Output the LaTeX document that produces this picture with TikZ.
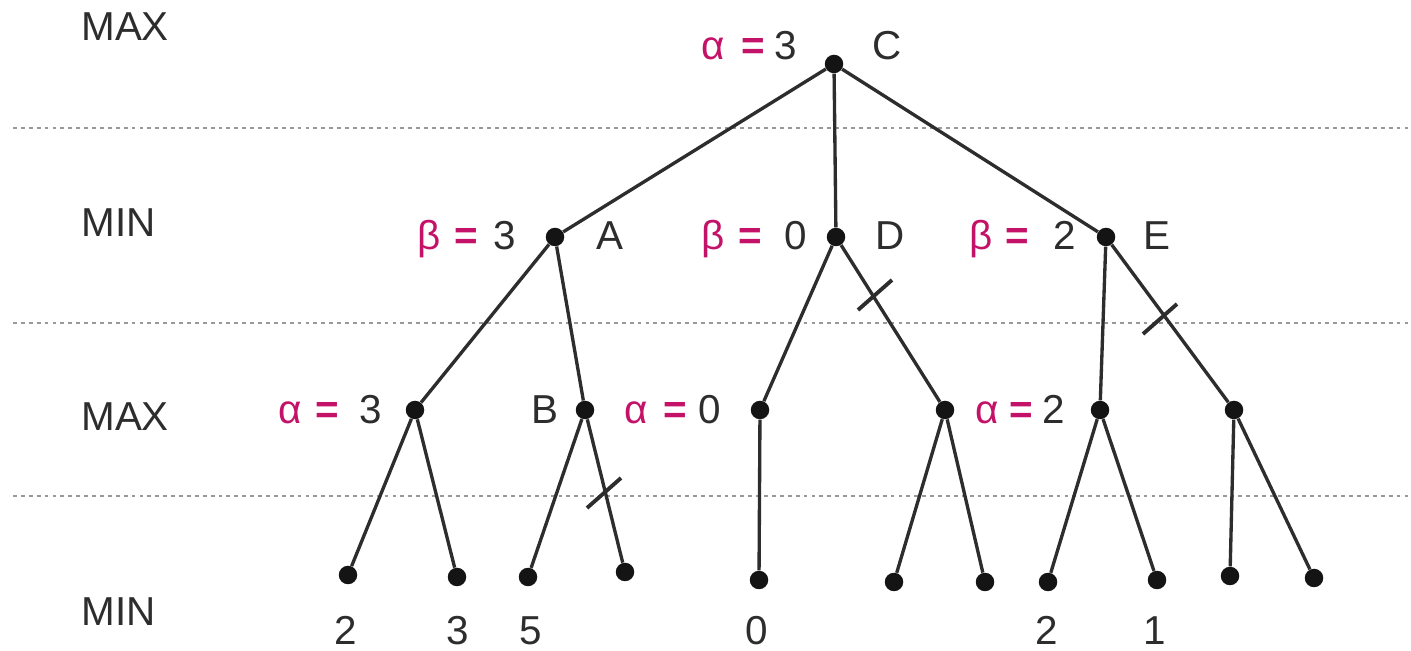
\documentclass[tikz,border=0pt]{standalone}
\usepackage{fontspec}
\setmainfont{Liberation Sans}
\usetikzlibrary{calc}
\definecolor{pk}{RGB}{196,18,104}
\definecolor{tx}{RGB}{45,45,45}
\definecolor{ln}{RGB}{45,45,45}
\begin{document}
\begin{tikzpicture}[x=0.02cm,y=-0.02cm,
  dot/.style={circle,fill=black!92,inner sep=0pt,minimum size=0.37cm},
  edge/.style={ln,line width=1.9pt},
  level/.style={dash pattern=on 2.2pt off 2.3pt,line width=1.5pt,gray!80},
  cut/.style={ln,line width=2.2pt},
  lvl/.style={anchor=base west,inner sep=0pt,text=tx,font=\fontsize{23}{26}\selectfont},
  lab/.style={anchor=base,inner sep=0pt,text=tx,font=\fontsize{23}{26}\selectfont},
  grk/.style={anchor=base,inner sep=0pt,text=pk,font=\fontsize{23}{26}\selectfont},
  eq/.style={anchor=base,inner sep=0pt,text=pk,font=\fontsize{23}{26}\selectfont\bfseries}]
\useasboundingbox (0,0) rectangle (1411,651);

% level separators
\coordinate (s1a) at (13,128); \coordinate (s1b) at (1411,128);
\coordinate (s2a) at (13,323); \coordinate (s2b) at (1411,323);
\coordinate (s3a) at (13,496); \coordinate (s3b) at (1411,496);
\draw[level] (s1a) -- (s1b);
\draw[level] (s2a) -- (s2b);
\draw[level] (s3a) -- (s3b);

% level labels
\node[lvl] (t1) at (81,41) {MAX};
\node[lvl] (t2) at (81,237) {MIN};
\node[lvl] (t3) at (81,431) {MAX};
\node[lvl] (t4) at (81,626) {MIN};

% tree nodes
\node[dot] (C) at (834,64) {};
\node[dot] (A) at (555,237) {};
\node[dot] (D) at (836,237) {};
\node[dot] (E) at (1106,237) {};
\node[dot] (L) at (415,410) {};
\node[dot] (B) at (585,410) {};
\node[dot] (M) at (760,410) {};
\node[dot] (N) at (945,410) {};
\node[dot] (P) at (1100,410) {};
\node[dot] (Q) at (1234,410) {};
\node[dot] (l1) at (348,575) {};
\node[dot] (l2) at (457,577) {};
\node[dot] (l3) at (528,577) {};
\node[dot] (l4) at (625,572) {};
\node[dot] (l5) at (759,580) {};
\node[dot] (l6) at (894,582) {};
\node[dot] (l7) at (985,582) {};
\node[dot] (l8) at (1048,582) {};
\node[dot] (l9) at (1157,580) {};
\node[dot] (l10) at (1230,576) {};
\node[dot] (l11) at (1314,578) {};

% edges
\draw[edge] (C) -- (A);
\draw[edge] (C) -- (D);
\draw[edge] (C) -- (E);
\draw[edge] (A) -- (L);
\draw[edge] (A) -- (B);
\draw[edge] (D) -- (M);
\draw[edge] (D) -- (N);
\draw[edge] (E) -- (P);
\draw[edge] (E) -- (Q);
\draw[edge] (L) -- (l1);
\draw[edge] (L) -- (l2);
\draw[edge] (B) -- (l3);
\draw[edge] (B) -- (l4);
\draw[edge] (M) -- (l5);
\draw[edge] (N) -- (l6);
\draw[edge] (N) -- (l7);
\draw[edge] (P) -- (l8);
\draw[edge] (P) -- (l9);
\draw[edge] (Q) -- (l10);
\draw[edge] (Q) -- (l11);

% pruning marks
\coordinate (c1a) at (858,310); \coordinate (c1b) at (892,280);
\coordinate (c2a) at (1143,334); \coordinate (c2b) at (1177,304);
\coordinate (c3a) at (587,508); \coordinate (c3b) at (621,478);
\draw[cut] (c1a) -- (c1b);
\draw[cut] (c2a) -- (c2b);
\draw[cut] (c3a) -- (c3b);

% labels at C
\node[grk] (aC) at (713,60) {α};
\node[eq] (eC) at (753,60) {=};
\node[lab] (nC) at (786,60) {3};
\node[lab] (xC) at (887,60) {C};
% labels at A
\node[grk] (aA) at (429,250) {β};
\node[eq] (eA) at (466,250) {=};
\node[lab] (nA) at (505,250) {3};
\node[lab] (xA) at (610,250) {A};
% labels at D
\node[grk] (aD) at (713,250) {β};
\node[eq] (eD) at (750,250) {=};
\node[lab] (nD) at (796,250) {0};
\node[lab] (xD) at (890,250) {D};
% labels at E
\node[grk] (aE) at (981,250) {β};
\node[eq] (eE) at (1017,250) {=};
\node[lab] (nE) at (1065,250) {2};
\node[lab] (xE) at (1157,250) {E};
% labels at MAX level
\node[grk] (aL) at (290,424) {α};
\node[eq] (eL) at (327,424) {=};
\node[lab] (nL) at (371,424) {3};
\node[lab] (xB) at (545,424) {B};
\node[grk] (aM) at (636,424) {α};
\node[eq] (eM) at (675,424) {=};
\node[lab] (nM) at (710,424) {0};
\node[grk] (aN) at (987,424) {α};
\node[eq] (eN) at (1021,424) {=};
\node[lab] (nN) at (1054,424) {2};

% leaf values
\node[lab] (v1) at (346,645) {2};
\node[lab] (v2) at (458,645) {3};
\node[lab] (v3) at (531,645) {5};
\node[lab] (v5) at (757,645) {0};
\node[lab] (v8) at (1047,645) {2};
\node[lab] (v9) at (1155,645) {1};
\end{tikzpicture}
\end{document}
